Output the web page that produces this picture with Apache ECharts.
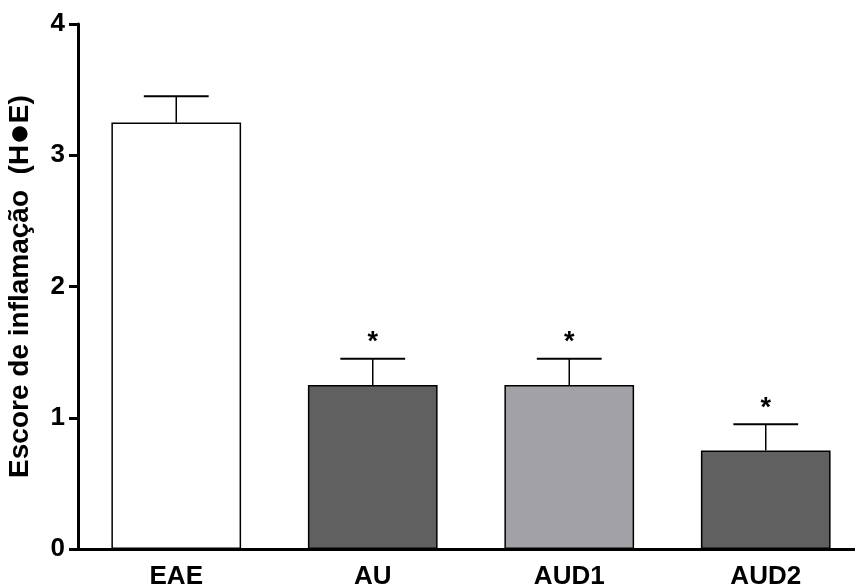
<!DOCTYPE html>
<html>
<head>
<meta charset="utf-8">
<script src="https://cdn.jsdelivr.net/npm/echarts@6/dist/echarts.min.js"></script>
<style>html,body{margin:0;padding:0;background:#fff}#c{width:855px;height:587px}</style>
</head>
<body>
<div id="c"></div>
<script>
const categories = ['EAE', 'AU', 'AUD1', 'AUD2'];
const means = [3.25, 1.25, 1.25, 0.75];
const errors = [0.2, 0.2, 0.2, 0.2];
const significant = [false, true, true, true];
const barColors = ['#ffffff', '#606060', '#a2a1a5', '#606060'];
const yTicks = [0, 1, 2, 3, 4];
const yAxisTitleParts = ['Escore de inflamação  (H', '●', 'E)'];

const FONT = '"Liberation Sans", Arial, Helvetica, sans-serif';
const chart = echarts.init(document.getElementById('c'));

const errData = categories.map((c, i) => [i, means[i], errors[i], significant[i] ? 1 : 0]);

chart.setOption({
  animation: false,
  grid: { left: 78, right: -9, top: 24, bottom: 38, containLabel: false, outerBoundsMode: 'none' },
  xAxis: {
    type: 'category',
    data: categories,
    boundaryGap: true,
    axisLine: { lineStyle: { color: '#000', width: 3 } },
    axisTick: { alignWithLabel: true, length: 9, lineStyle: { color: '#000', width: 3 } },
    axisLabel: { color: '#000', fontFamily: FONT, fontWeight: 'bold', fontSize: 26, margin: 15 },
    splitLine: { show: false }
  },
  yAxis: {
    type: 'value',
    min: yTicks[0],
    max: yTicks[yTicks.length - 1],
    interval: 1,
    name: '{a|' + yAxisTitleParts[0] + '}{b|' + yAxisTitleParts[1] + '}{a|' + yAxisTitleParts[2] + '}',
    nameLocation: 'middle',
    nameGap: 40,
    nameTextStyle: {
      color: '#000', fontFamily: FONT, fontWeight: 'bold', fontSize: 28,
      rich: {
        a: { color: '#000', fontFamily: FONT, fontWeight: 'bold', fontSize: 28 },
        b: { color: '#000', fontFamily: FONT, fontWeight: 'bold', fontSize: 36 }
      }
    },
    axisLine: { show: true, lineStyle: { color: '#000', width: 3 } },
    axisTick: { show: true, length: 9, lineStyle: { color: '#000', width: 3 } },
    axisLabel: { color: '#000', fontFamily: FONT, fontWeight: 'bold', fontSize: 26, margin: 13 },
    splitLine: { show: false }
  },
  series: [
    {
      type: 'bar',
      barWidth: '66%',
      data: means.map((v, i) => ({ value: v, itemStyle: { color: barColors[i] } })),
      itemStyle: { borderColor: '#000', borderWidth: 1.5 },
      z: 2
    },
    {
      type: 'custom',
      data: errData,
      z: 3,
      renderItem: function (params, api) {
        const x = api.value(0);
        const m = api.value(1);
        const e = api.value(2);
        const sig = api.value(3);
        const base = api.coord([x, m]);
        const top = api.coord([x, m + e]);
        const bw = api.size([1, 0])[0] * 0.66;
        const half = bw / 4;
        const children = [
          { type: 'line', shape: { x1: base[0], y1: base[1], x2: top[0], y2: top[1] }, style: { stroke: '#000', lineWidth: 1.5 } },
          { type: 'line', shape: { x1: top[0] - half, y1: top[1], x2: top[0] + half, y2: top[1] }, style: { stroke: '#000', lineWidth: 2 } }
        ];
        if (sig) {
          children.push({
            type: 'text',
            style: { text: '*', x: top[0], y: top[1] - 16, align: 'center', verticalAlign: 'middle', font: 'bold 27px ' + FONT, fill: '#000' }
          });
        }
        return { type: 'group', children: children };
      }
    }
  ]
});
</script>
</body>
</html>
